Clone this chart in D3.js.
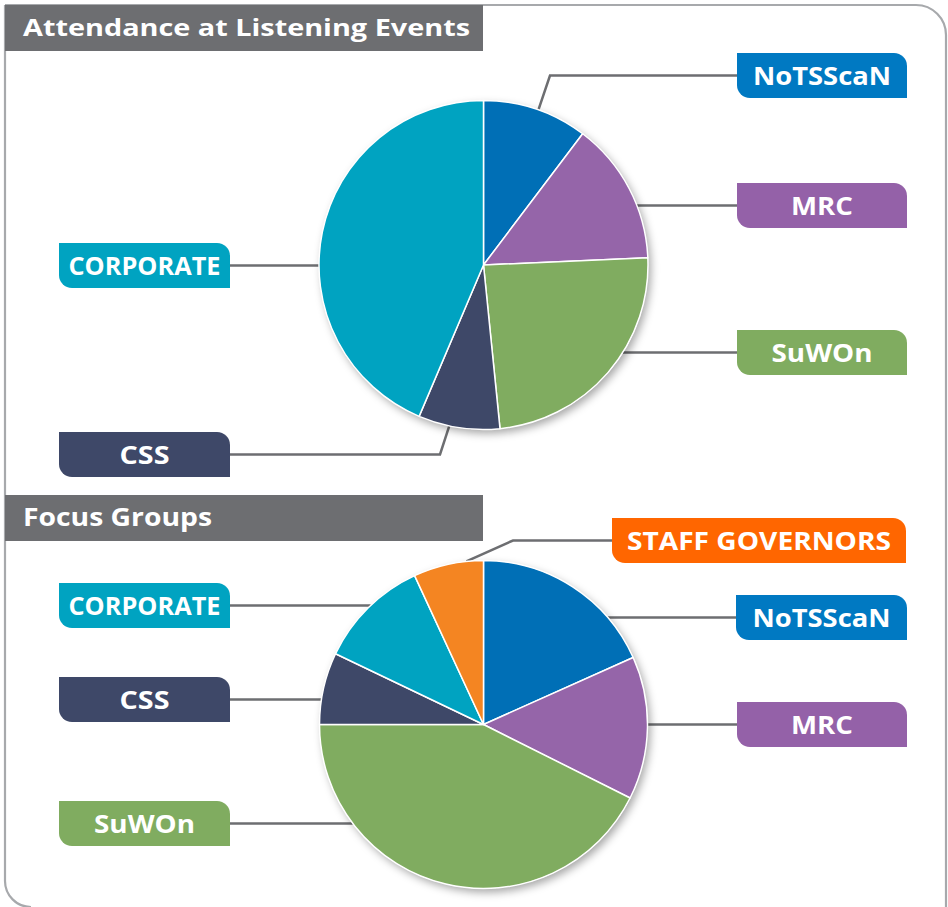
<!DOCTYPE html>
<html>
<head>
<meta charset="utf-8">
<script src="https://cdn.jsdelivr.net/npm/d3@7/dist/d3.min.js"></script>
<style>
  html, body { margin: 0; padding: 0; background: #fff; }
  svg { display: block; }
  text { font-family: "Open Sans", "Noto Sans", sans-serif; font-weight: 700; fill: #fff; }
</style>
</head>
<body>
<svg id="chart" width="948" height="907"></svg>
<script>
// --- data (share of attendance, %) ---
const topTitle = 'Attendance at Listening Events'
const topLabels = ['NoTSScaN', 'MRC', 'SuWOn', 'CSS', 'CORPORATE']
const topValues = [10.3, 14.0, 24.1, 8.0, 43.6]

const bottomTitle = 'Focus Groups'
const bottomLabels = ['NoTSScaN', 'MRC', 'SuWOn', 'CSS', 'CORPORATE', 'STAFF GOVERNORS']
const bottomValues = [18.3, 14.1, 42.6, 7.1, 11.0, 6.9]

const sliceColors = {
  NoTSScaN: '#006fb6', MRC: '#9565a9', SuWOn: '#80ac60',
  CSS: '#3e4868', CORPORATE: '#00a3c1', 'STAFF GOVERNORS': '#f48522'
}
const boxColors = {
  NoTSScaN: '#0079c2', MRC: '#9461a8', SuWOn: '#80ac60',
  CSS: '#3e4868', CORPORATE: '#00a3c1', 'STAFF GOVERNORS': '#ff6600'
}

// the original face is wider than Open Sans, so texts are stretched to these widths
const textWidths = {
  NoTSScaN: 138, MRC: 62, SuWOn: 101, CSS: 50, CORPORATE: 152, 'STAFF GOVERNORS': 264
}

// label box placement: x, y, width, optional bent leader (anchor angle in deg, knee x)
const topLayout = {
  NoTSScaN: { x: 737, y: 53, w: 170, bend: { angle: 19.5, knee: 550 } },
  MRC: { x: 737, y: 183, w: 170 },
  SuWOn: { x: 737, y: 330, w: 170 },
  CORPORATE: { x: 59, y: 243, w: 171 },
  CSS: { x: 59, y: 432, w: 171, bend: { angle: 192, knee: 440 } }
}
const bottomLayout = {
  'STAFF GOVERNORS': { x: 612, y: 518, w: 294, bend: { angle: 354, knee: 513 } },
  NoTSScaN: { x: 736, y: 595, w: 171 },
  MRC: { x: 737, y: 702, w: 170 },
  CORPORATE: { x: 59, y: 583, w: 171 },
  CSS: { x: 59, y: 677, w: 171 },
  SuWOn: { x: 59, y: 801, w: 171 }
}

const svg = d3.select('#chart')
const boxH = 45
const lineColor = '#6d6e71'

// drop shadow for the pies
const defs = svg.append('defs')
defs.append('filter').attr('id', 'shadow')
  .attr('x', '-20%').attr('y', '-20%').attr('width', '140%').attr('height', '140%')
  .append('feDropShadow')
  .attr('dx', 3).attr('dy', 4).attr('stdDeviation', 4)
  .attr('flood-color', '#000').attr('flood-opacity', 0.35)

// outer frame
svg.append('path')
  .attr('d', 'M5,5 H916 A30,30 0 0 1 946,35 V912 M5,5 V881 A26,26 0 0 0 31,907')
  .attr('fill', 'none').attr('stroke', '#a7a9ac').attr('stroke-width', 2.2)

function tabPath (x, y, w, h, r) {
  return `M${x},${y} H${x + w - r} A${r},${r} 0 0 1 ${x + w},${y + r} V${y + h} H${x + r} A${r},${r} 0 0 1 ${x},${y + h - r} Z`
}

function header (title, y, size, width) {
  svg.append('rect')
    .attr('x', 5).attr('y', y).attr('width', 478).attr('height', 46)
    .attr('fill', '#6d6e71')
  svg.append('text')
    .attr('x', 23).attr('y', y + 31)
    .style('font-size', size + 'px')
    .attr('textLength', width).attr('lengthAdjust', 'spacingAndGlyphs')
    .text(title)
}

function drawPie (labels, values, layout, cx, cy, r) {
  const data = labels.map((l, i) => ({ label: l, value: values[i] }))
  const arcs = d3.pie().sort(null).value(d => d.value).startAngle(0)(data)
  const arc = d3.arc().innerRadius(0).outerRadius(r)

  // leader lines
  const leaders = svg.append('g')
  arcs.forEach(a => {
    const L = layout[a.data.label]
    const ly = L.y + boxH / 2
    const right = L.x > cx
    const x0 = right ? L.x : L.x + L.w
    let pts
    if (L.bend) {
      const t = L.bend.angle * Math.PI / 180
      const ax = cx + r * Math.sin(t)
      const ay = cy - r * Math.cos(t)
      pts = [[x0, ly], [L.bend.knee, ly], [ax, ay]]
    } else {
      const dy = ly - cy
      const dx = Math.sqrt(Math.max(0, r * r - dy * dy))
      pts = [[x0, ly], [right ? cx + dx : cx - dx, ly]]
    }
    leaders.append('path')
      .attr('d', d3.line()(pts))
      .attr('fill', 'none').attr('stroke', lineColor).attr('stroke-width', 2.5)
  })

  const g = svg.append('g').attr('transform', `translate(${cx},${cy})`)
  g.append('circle').attr('r', r).attr('fill', '#fff').attr('filter', 'url(#shadow)')
  g.selectAll('path.slice')
    .data(arcs)
    .enter()
    .append('path')
    .attr('class', 'slice')
    .attr('d', arc)
    .attr('fill', d => sliceColors[d.data.label])
    .attr('stroke', '#fff').attr('stroke-width', 1.5).attr('stroke-linejoin', 'round')

  // label tabs
  labels.forEach(l => {
    const L = layout[l]
    svg.append('path')
      .attr('d', tabPath(L.x, L.y, L.w, boxH, 13))
      .attr('fill', boxColors[l])
    svg.append('text')
      .attr('x', L.x + L.w / 2).attr('y', L.y + boxH / 2 + 9)
      .attr('text-anchor', 'middle')
      .style('font-size', '25px')
      .attr('textLength', textWidths[l]).attr('lengthAdjust', 'spacingAndGlyphs')
      .text(l)
  })
}

header(topTitle, 5, 24, 447)
header(bottomTitle, 495, 25, 189)
drawPie(topLabels, topValues, topLayout, 483.5, 265, 164.5)
drawPie(bottomLabels, bottomValues, bottomLayout, 483.5, 724.5, 164)
</script>
</body>
</html>
